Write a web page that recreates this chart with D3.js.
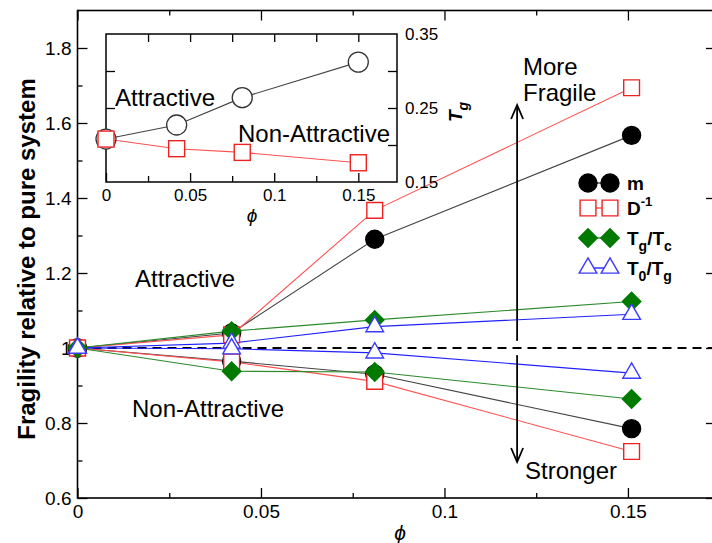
<!DOCTYPE html>
<html>
<head>
  <meta charset="utf-8">
  <title>Fragility vs phi</title>
  <script src="https://d3js.org/d3.v7.min.js"></script>
  <style>
    body { margin: 0; background: #fff; }
    svg { display: block; font-family: "Liberation Sans", Arial, sans-serif; }
    .tick text { font-size: 19px; fill: #000; }
    .inset .tick text { font-size: 17px; }
    .tick line { stroke: #000; stroke-width: 1.3px; }
    .note { font-size: 24px; fill: #000; }
  </style>
</head>
<body>
<svg width="712" height="543"></svg>
<script>
  // main plot data
  const phi = [0, 0.042, 0.081, 0.151];
  const mAttr = [1, 1.04, 1.29, 1.567];
  const mNon = [1, 0.965, 0.93, 0.785];
  const dAttr = [1, 1.035, 1.367, 1.694];
  const dNon = [1, 0.963, 0.911, 0.724];
  const tgtcAttr = [1, 1.045, 1.075, 1.124];
  const tgtcNon = [1, 0.938, 0.936, 0.864];
  const t0tgAttr = [1, 1.013, 1.057, 1.09];
  const t0tgNon = [1, 0.998, 0.987, 0.933];

  // inset data (Tg)
  const phiInset = [0, 0.042, 0.081, 0.15];
  const tgAttr = [0.208, 0.227, 0.264, 0.312];
  const tgNon = [0.208, 0.195, 0.19, 0.176];

  const xTicks = [0, 0.05, 0.1, 0.15];
  const yTicks = [0.6, 0.8, 1, 1.2, 1.4, 1.6, 1.8];
  const insetYTicks = [0.15, 0.25, 0.35];

  const svg = d3.select('svg');

  const x = d3.scaleLinear().domain([0, 0.174]).range([77.5, 716]);
  const y = d3.scaleLinear().domain([0.6, 1.9]).range([498, 10.5]);

  const diamond = {
    draw(ctx, size) {
      const r = Math.sqrt(size / 2);
      ctx.moveTo(0, -r); ctx.lineTo(r, 0); ctx.lineTo(0, r); ctx.lineTo(-r, 0); ctx.closePath();
    }
  };

  const series = [
    { name: 'm', attr: mAttr, non: mNon, line: '#444', stroke: '#000', fill: '#000', shape: d3.symbolCircle, size: 254 },
    { name: 'D', attr: dAttr, non: dNon, line: '#ff5050', stroke: '#ee2222', fill: '#fff', shape: d3.symbolSquare, size: 250 },
    { name: 'TgTc', attr: tgtcAttr, non: tgtcNon, line: '#2a8a2a', stroke: '#007a00', fill: '#007a00', shape: diamond, size: 170 },
    { name: 'T0Tg', attr: t0tgAttr, non: t0tgNon, line: '#2020ff', stroke: '#3b3bff', fill: '#fff', shape: d3.symbolTriangle, size: 135 }
  ];

  // axes (ticks pointing inward)
  svg.append('g').attr('transform', `translate(0,${y(0.6)})`)
    .call(d3.axisBottom(x).tickValues(xTicks).tickSize(-10).tickPadding(7).tickFormat(d3.format('~g')));
  svg.append('g').attr('transform', `translate(0,${y(0.6)})`)
    .call(d3.axisBottom(x).tickValues(d3.range(0.025, 0.174, 0.05)).tickSize(-5).tickFormat(''));
  svg.append('g').attr('transform', `translate(0,${y(1.9)})`)
    .call(d3.axisTop(x).tickValues(xTicks).tickSize(-10).tickFormat(''));
  svg.append('g').attr('transform', `translate(0,${y(1.9)})`)
    .call(d3.axisTop(x).tickValues(d3.range(0.025, 0.174, 0.05)).tickSize(-5).tickFormat(''));
  svg.append('g').attr('transform', `translate(${x(0)},0)`)
    .call(d3.axisLeft(y).tickValues(yTicks).tickSize(-10).tickPadding(6).tickFormat(d3.format('~g')));
  svg.append('g').attr('transform', `translate(${x(0)},0)`)
    .call(d3.axisLeft(y).tickValues(d3.range(0.7, 1.9, 0.2)).tickSize(-5).tickFormat(''));
  svg.append('g').attr('transform', `translate(${x(0.174)},0)`)
    .call(d3.axisRight(y).tickValues(yTicks).tickSize(-10).tickFormat(''));
  svg.selectAll('.domain').remove();

  svg.append('rect')
    .attr('x', x(0)).attr('y', y(1.9))
    .attr('width', x(0.174) - x(0)).attr('height', y(0.6) - y(1.9))
    .attr('fill', 'none').attr('stroke', '#000').attr('stroke-width', 1.6);

  // reference line at 1
  svg.append('line')
    .attr('x1', x(0)).attr('x2', x(0.174))
    .attr('y1', y(1)).attr('y2', y(1))
    .attr('stroke', '#000').attr('stroke-width', 2).attr('stroke-dasharray', '9,6');

  const line = d3.line().x((d, i) => x(phi[i])).y(d => y(d));

  series.forEach(s => {
    [s.attr, s.non].forEach(vals => {
      svg.append('path').datum(vals)
        .attr('d', line)
        .attr('fill', 'none').attr('stroke', s.line).attr('stroke-width', 1.1);
    });
  });

  series.forEach(s => {
    const pts = phi.map((p, i) => [p, s.attr[i]]).concat(phi.map((p, i) => [p, s.non[i]]));
    svg.append('g').selectAll('path').data(pts).enter().append('path')
      .attr('transform', d => `translate(${x(d[0])},${y(d[1])})`)
      .attr('d', d3.symbol().type(s.shape).size(s.size))
      .attr('fill', s.fill).attr('stroke', s.stroke).attr('stroke-width', 1.4);
  });

  // arrows
  function arrow(yFrom, yTo) {
    const ax = x(0.1198);
    const dir = yTo > yFrom ? 1 : -1; // arms point back toward the tail
    svg.append('line').attr('x1', ax).attr('x2', ax)
      .attr('y1', y(yFrom)).attr('y2', y(yTo))
      .attr('stroke', '#000').attr('stroke-width', 1.8);
    svg.append('path')
      .attr('d', `M${ax - 6},${y(yTo) + dir * 14}L${ax},${y(yTo)}L${ax + 6},${y(yTo) + dir * 14}`)
      .attr('fill', 'none').attr('stroke', '#000').attr('stroke-width', 1.8);
  }
  arrow(1.019, 1.648);
  arrow(0.981, 0.696);

  svg.append('text').attr('class', 'note').attr('x', 523).attr('y', 75).text('More');
  svg.append('text').attr('class', 'note').attr('x', 523).attr('y', 101).text('Fragile');
  svg.append('text').attr('class', 'note').attr('x', 525).attr('y', 479).text('Stronger');
  svg.append('text').attr('class', 'note').attr('x', 135).attr('y', 287).text('Attractive');
  svg.append('text').attr('class', 'note').attr('x', 132).attr('y', 417).text('Non-Attractive');

  // axis titles
  svg.append('text')
    .attr('transform', 'translate(35,259) rotate(-90)')
    .attr('text-anchor', 'middle')
    .attr('font-size', 24).attr('font-weight', 'bold')
    .text('Fragility relative to pure system');
  svg.append('text')
    .attr('x', 400).attr('y', 540).attr('text-anchor', 'middle')
    .attr('font-size', 21).attr('font-style', 'italic')
    .text('ϕ');

  // legend
  const legendY = [183, 208, 238, 268];
  const legendLabels = [
    [['m', 0]],
    [['D', 0], ['-1', -1]],
    [['T', 0], ['g', 1], ['/T', 0], ['c', 1]],
    [['T', 0], ['0', 1], ['/T', 0], ['g', 1]]
  ];
  series.forEach((s, i) => {
    const g = svg.append('g').attr('transform', `translate(0,${legendY[i]})`);
    g.append('line').attr('x1', 588).attr('x2', 610).attr('y1', 0).attr('y2', 0)
      .attr('stroke', s.line).attr('stroke-width', 1.4);
    [588, 610].forEach(cx => {
      g.append('path').attr('transform', `translate(${cx},0)`)
        .attr('d', d3.symbol().type(s.shape).size(s.size))
        .attr('fill', s.fill).attr('stroke', s.stroke).attr('stroke-width', 1.4);
    });
    const t = g.append('text').attr('x', 627).attr('y', 7)
      .attr('font-size', 19).attr('font-weight', 'bold');
    legendLabels[i].forEach(([str, shift]) => {
      const ts = t.append('tspan').text(str);
      if (shift === 1) ts.attr('font-size', 14).attr('dy', 6);
      if (shift === -1) ts.attr('font-size', 13).attr('dy', -9);
      if (shift === 0 && ts.node().previousSibling) ts.attr('dy', -6);
    });
  });

  // inset
  const inset = svg.append('g').attr('class', 'inset');
  const xi = d3.scaleLinear().domain([0, 0.173]).range([106, 397]);
  const yi = d3.scaleLinear().domain([0.15, 0.35]).range([182, 34]);

  inset.append('rect')
    .attr('x', xi(0)).attr('y', yi(0.35))
    .attr('width', xi(0.173) - xi(0)).attr('height', yi(0.15) - yi(0.35))
    .attr('fill', '#fff');

  inset.append('g').attr('transform', `translate(0,${yi(0.15)})`)
    .call(d3.axisBottom(xi).tickValues(xTicks).tickSize(-9).tickPadding(7).tickFormat(d3.format('~g')));
  inset.append('g').attr('transform', `translate(0,${yi(0.15)})`)
    .call(d3.axisBottom(xi).tickValues(d3.range(0.025, 0.173, 0.05)).tickSize(-6).tickFormat(''));
  inset.append('g').attr('transform', `translate(0,${yi(0.35)})`)
    .call(d3.axisTop(xi).tickValues(d3.range(0.025, 0.173, 0.025)).tickSize(-8).tickFormat(''));
  inset.append('g').attr('transform', `translate(${xi(0.173)},0)`)
    .call(d3.axisRight(yi).tickValues(insetYTicks).tickSize(0).tickPadding(8).tickFormat(d3.format('.2f')));
  inset.append('g').attr('transform', `translate(${xi(0.173)},0)`)
    .call(d3.axisRight(yi).tickValues([0.2, 0.25, 0.3]).tickSize(-9).tickFormat(''));
  inset.append('g').attr('transform', `translate(${xi(0)},0)`)
    .call(d3.axisLeft(yi).tickValues([0.2, 0.25, 0.3]).tickSize(-9).tickFormat(''));
  inset.selectAll('.domain').remove();

  inset.append('rect')
    .attr('x', xi(0)).attr('y', yi(0.35))
    .attr('width', xi(0.173) - xi(0)).attr('height', yi(0.15) - yi(0.35))
    .attr('fill', 'none').attr('stroke', '#000').attr('stroke-width', 1.5);

  const lineIn = d3.line().x((d, i) => xi(phiInset[i])).y(d => yi(d));
  inset.append('path').datum(tgAttr).attr('d', lineIn)
    .attr('fill', 'none').attr('stroke', '#444').attr('stroke-width', 1.1);
  inset.append('path').datum(tgNon).attr('d', lineIn)
    .attr('fill', 'none').attr('stroke', '#ff5050').attr('stroke-width', 1.1);
  inset.append('g').selectAll('circle').data(tgAttr).enter().append('circle')
    .attr('cx', (d, i) => xi(phiInset[i])).attr('cy', d => yi(d)).attr('r', 10)
    .attr('fill', '#fff').attr('stroke', '#333').attr('stroke-width', 1.3);
  inset.append('g').selectAll('rect.sq').data(tgNon).enter().append('rect')
    .attr('x', (d, i) => xi(phiInset[i]) - 8).attr('y', d => yi(d) - 8)
    .attr('width', 16).attr('height', 16)
    .attr('fill', '#fff').attr('stroke', '#ee2222').attr('stroke-width', 1.4);

  inset.append('text').attr('class', 'note').attr('x', 115).attr('y', 106).text('Attractive');
  inset.append('text').attr('class', 'note').attr('x', 238).attr('y', 142).text('Non-Attractive');

  inset.append('text')
    .attr('x', 252).attr('y', 222).attr('text-anchor', 'middle')
    .attr('font-size', 19).attr('font-style', 'italic')
    .text('ϕ');
  const tgLabel = inset.append('text')
    .attr('transform', 'translate(462,112) rotate(-90)')
    .attr('text-anchor', 'middle')
    .attr('font-size', 19).attr('font-weight', 'bold').attr('font-style', 'italic');
  tgLabel.append('tspan').text('T');
  tgLabel.append('tspan').attr('font-size', 14).attr('dy', 6).text('g');
</script>
</body>
</html>
